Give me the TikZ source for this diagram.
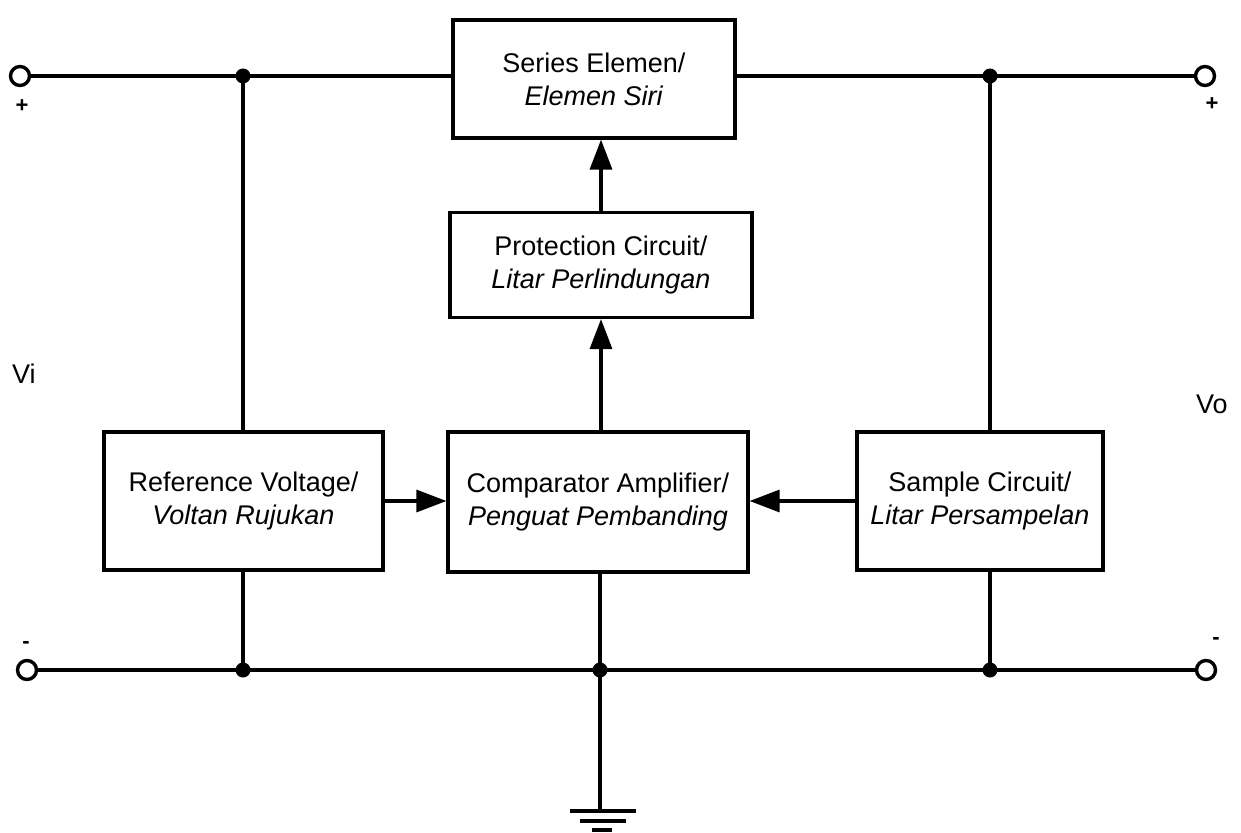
\documentclass[tikz,border=0pt]{standalone}
\usepackage{fontspec}
\setmainfont{Liberation Sans}
\usetikzlibrary{arrows.meta}
\begin{document}
\begin{tikzpicture}[x=1pt,y=-1pt,
  wire/.style={line width=3.2pt},
  blk/.style={draw,line width=3.2pt,inner sep=0pt,align=center,font=\fontsize{27}{33}\selectfont},
  term/.style={draw,circle,line width=3.4pt,minimum size=19pt,inner sep=0pt,fill=white},
  dotj/.style={circle,fill=black,minimum size=15pt,inner sep=0pt},
  arr/.style={wire,-{Triangle[length=30pt,width=22pt]}},
  sign/.style={font=\bfseries\fontsize{22}{22}\selectfont,inner sep=0pt}]
\useasboundingbox (0,0) rectangle (1241,832);
% blocks
\node[blk,minimum width=282pt,minimum height=118pt] (series) at (594,79) {Series Elemen/\\\textit{Elemen Siri}};
\node[blk,minimum width=302pt,minimum height=105pt] (prot) at (601,265) {Protection Circuit/\\\textit{Litar Perlindungan}};
\node[blk,minimum width=300pt,minimum height=140pt] (comp) at (598,502) {Comparator Amplifier/\\\textit{Penguat Pembanding}};
\node[blk,minimum width=279pt,minimum height=138pt] (ref) at (243.5,501) {Reference Voltage/\\\textit{Voltan Rujukan}};
\node[blk,minimum width=246pt,minimum height=138pt] (samp) at (980,501) {Sample Circuit/\\\textit{Litar Persampelan}};
% junctions
\coordinate (jtl) at (243,76);
\coordinate (jtr) at (990,76);
\coordinate (jbl) at (243,670);
\coordinate (jbm) at (600,670);
\coordinate (jbr) at (990,670);
\coordinate (gnd) at (602,811);
% terminals
\node[term] (tl) at (20,76) {};
\node[term] (tr) at (1205,76) {};
\node[term] (bl) at (27,670) {};
\node[term] (br) at (1206,670) {};
% wires
\draw[wire] (tl.east) -- (tl.east -| series.west);
\draw[wire] (series.east |- tr.west) -- (tr.west);
\draw[wire] (bl.east) -- (br.west);
\draw[wire] (jtl) -- (jtl |- ref.north);
\draw[wire] (jbl) -- (jbl |- ref.south);
\draw[wire] (jtr) -- (jtr |- samp.north);
\draw[wire] (jbr) -- (jbr |- samp.south);
\draw[wire] (jbm) -- (jbm |- comp.south);
\draw[wire] (jbm) -- (jbm |- gnd);
% ground symbol
\draw[line width=3.6pt] (570,811) -- (636,811);
\draw[line width=3.6pt] (580,821) -- (626,821);
\draw[line width=3.6pt] (592,830) -- (612,830);
% arrows
\draw[arr] (ref.east) -- (ref.east -| comp.west);
\draw[arr] (samp.west) -- (samp.west -| comp.east);
\draw[arr] (prot.south |- comp.north) -- (prot.south);
\draw[arr] (prot.north) -- (prot.north |- series.south);
% dots
\node[dotj] at (jtl) {};
\node[dotj] at (jtr) {};
\node[dotj] at (jbl) {};
\node[dotj] at (jbm) {};
\node[dotj] at (jbr) {};
% labels
\node[anchor=base west,font=\fontsize{27}{33}\selectfont,inner sep=0pt] (vi) at (12,383) {Vi};
\node[anchor=base west,font=\fontsize{27}{33}\selectfont,inner sep=0pt] (vo) at (1196,413) {Vo};
\node[sign] (pl) at (22,106) {+};
\node[sign] (pr) at (1212,104) {+};
\node[sign] (ml) at (26,645) {-};
\node[sign] (mr) at (1216,641) {-};
\end{tikzpicture}
\end{document}
